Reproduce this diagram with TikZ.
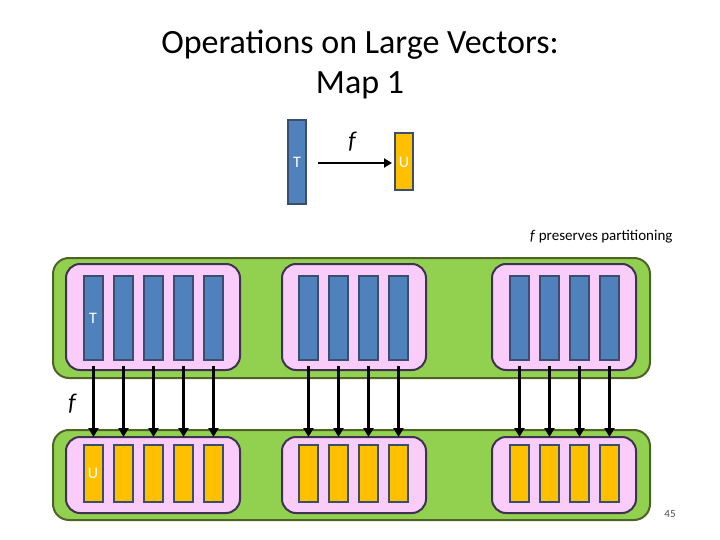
\documentclass[tikz,border=0pt]{standalone}
\usepackage{fontspec}
\setmainfont{Carlito}
\usetikzlibrary{arrows.meta}
\definecolor{tb}{HTML}{4F81BD}
\definecolor{tbd}{HTML}{3B4E6E}
\definecolor{uo}{HTML}{FFC000}
\definecolor{pk}{HTML}{F9CCF9}
\definecolor{pkd}{HTML}{3F3151}
\definecolor{gr}{HTML}{92D050}
\definecolor{grd}{HTML}{4F6228}
\tikzset{
  tbar/.style={draw=tbd,fill=tb,line width=1.5pt},
  ubar/.style={draw=tbd,fill=uo,line width=1.5pt},
  pbox/.style={draw=pkd,fill=pk,line width=2pt,rounded corners=14pt},
  gband/.style={draw=grd,fill=gr,line width=2pt,rounded corners=16pt},
  marr/.style={-{Triangle[length=9pt,width=10pt]},line width=2.5pt},
}
\begin{document}
\begin{tikzpicture}[x=1pt,y=-1pt]
\useasboundingbox (0,0) rectangle (720,540);
\node[font=\fontsize{34}{40}\selectfont,align=center] (title) at (360,64) {Operations on Large Vectors:\\Map 1};
% top example
\draw[tbar] (288,120) rectangle (306,204);
\node[text=white,font=\fontsize{16}{18}\selectfont] (tl) at (297,162) {T};
\draw[ubar] (395,133) rectangle (413,190);
\node[text=white,font=\fontsize{16}{18}\selectfont] (ul) at (404,162) {U};
\coordinate (a1) at (318,163);
\coordinate (a2) at (392,163);
\draw[marr,-{Triangle[length=8pt,width=9pt]}] (a1) -- (a2);
\node[font=\itshape\fontsize{24}{26}\selectfont] (fl) at (352,142) {f};
\node[anchor=east,font=\fontsize{15}{17}\selectfont] (pp) at (676,237) {\textit{f} preserves partitioning};
% bands
\draw[gband] (53,258) rectangle (650,378);
\draw[gband] (53,430) rectangle (650,520);
\draw[pbox] (66,264) rectangle (240,370);
\draw[pbox] (282,264) rectangle (426,370);
\draw[pbox] (492,264) rectangle (636,370);
\draw[pbox] (66,437) rectangle (240,513);
\draw[pbox] (282,437) rectangle (426,513);
\draw[pbox] (492,437) rectangle (636,513);
\foreach \x in {84,114,144,174,204,299,329,359,389,510,540,570,600}{
  \draw[tbar] (\x,276) rectangle (\x+19,360);
  \draw[ubar] (\x,445) rectangle (\x+19,502);
  \coordinate (s\x) at (\x+9.5,366);
  \coordinate (e\x) at (\x+9.5,437);
  \draw[marr] (s\x) -- (e\x);
}
\node[text=white,font=\fontsize{16}{18}\selectfont] (t2) at (93,318) {T};
\node[text=white,font=\fontsize{16}{18}\selectfont] (u2) at (93,473) {U};
\node[font=\itshape\fontsize{24}{26}\selectfont] (f2) at (72,404) {f};
\node[text=black!70,font=\fontsize{11}{12}\selectfont] (pg) at (670,514) {45};
\end{tikzpicture}
\end{document}
